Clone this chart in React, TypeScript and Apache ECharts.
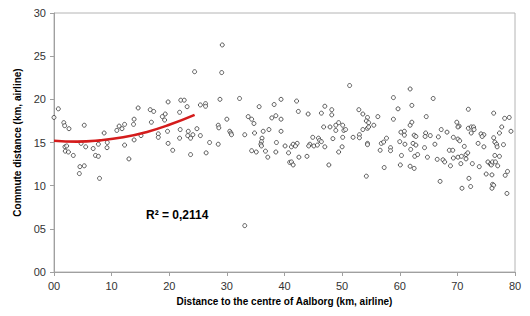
import React, { useEffect, useRef } from "react";
import * as echarts from "echarts";

const xTicks = [0, 10, 20, 30, 40, 50, 60, 70, 80];
const yTicks = [0, 5, 10, 15, 20, 25, 30];

const commutePoints: [number, number][] = [
  [0, 17.9], [0.75, 18.9], [1.7, 17.3], [1.85, 16.95], [2.6, 16.6], [5.25, 17.0], [8.7, 16.1],
  [10.9, 16.4], [11.3, 16.9], [11.8, 16.6], [12.25, 17.1], [4.7, 14.9], [5.5, 14.5], [1.9, 14.5],
  [2.2, 14.6], [1.96, 14.0], [2.5, 13.9], [3.35, 13.5], [6.8, 14.3], [7.7, 14.8], [9.25, 15.0],
  [9.2, 14.4], [7.2, 13.5], [7.7, 13.4], [12.25, 14.7], [13.0, 13.1], [4.5, 12.2], [5.25, 12.3],
  [4.4, 11.4], [7.9, 10.85],
  [24.4, 23.2], [19.8, 19.7], [22.0, 19.9], [22.6, 19.9], [25.4, 19.35], [26.3, 19.5], [14.6, 19.0],
  [16.7, 18.8], [17.3, 18.6], [21.8, 18.5], [23.1, 19.15], [19.3, 18.3], [18.8, 18.0], [13.9, 17.7],
  [13.8, 17.1], [16.9, 17.35], [19.2, 17.6], [15.1, 15.8], [18.1, 16.0], [18.1, 15.6], [19.7, 16.3],
  [21.9, 16.5], [23.3, 16.3], [24.8, 16.6], [21.8, 15.5], [23.2, 15.8], [23.7, 15.5], [24.1, 15.9],
  [25.4, 15.8], [13.9, 15.3], [19.8, 14.9], [20.6, 14.1], [23.7, 13.6], [26.4, 13.8], [26.3, 19.2],
  [29.2, 26.3], [29.1, 23.1], [51.3, 21.6], [28.8, 20.0], [32.2, 20.1], [30.0, 17.7], [28.5, 17.0],
  [28.6, 16.7], [30.5, 16.3], [30.7, 16.1], [30.8, 15.9], [28.5, 14.8], [27.0, 15.0], [35.6, 19.15],
  [33.7, 18.0], [34.3, 17.7], [34.7, 17.2], [33.1, 15.9], [34.8, 16.1], [36.3, 16.3], [37.3, 16.5],
  [36.1, 15.5], [36.0, 15.1], [35.9, 14.8], [36.0, 14.6], [34.3, 14.05], [35.1, 13.9], [36.7, 14.0],
  [37.1, 13.3], [38.2, 19.4], [39.4, 20.0], [38.5, 18.1], [37.8, 17.85], [39.4, 17.7], [39.4, 16.3],
  [38.6, 15.0], [38.5, 13.9], [40.1, 14.6], [40.7, 13.8], [41.2, 14.5], [41.5, 14.8], [42.2, 14.9],
  [41.9, 14.6], [42.1, 19.8], [42.4, 18.6], [44.1, 18.3], [42.5, 13.3], [43.9, 13.4], [44.4, 14.8],
  [44.2, 14.6], [44.9, 15.6], [45.1, 14.6], [45.7, 14.7], [45.9, 15.5], [46.1, 15.25], [46.4, 15.1],
  [47.0, 14.5], [46.4, 18.4], [48.2, 18.2], [47.0, 19.2], [48.2, 18.8], [46.8, 16.8], [47.9, 16.8],
  [48.9, 17.0], [49.4, 17.3], [50.1, 17.0], [48.9, 16.4], [50.3, 16.4], [48.4, 15.45], [50.1, 15.6],
  [50.0, 14.5], [49.4, 13.9], [40.9, 12.7], [41.2, 12.75], [41.5, 12.4], [47.7, 12.4], [33.1, 5.37],
  [54.2, 11.1], [57.3, 12.1], [60.1, 12.4], [60.3, 13.5], [61.8, 12.25], [62.5, 12.0], [62.6, 13.4],
  [63.1, 13.6], [64.8, 13.3], [66.5, 13.05], [67.5, 13.0], [67.8, 12.75], [67.0, 10.5], [68.8, 12.3],
  [69.3, 13.2], [70.1, 13.3], [70.7, 13.4], [71.5, 13.6], [71.8, 13.8], [70.6, 12.55], [71.5, 13.1],
  [72.6, 12.55], [73.8, 12.2], [72.0, 10.85], [70.8, 9.7], [72.3, 9.9], [75.0, 11.35], [75.3, 12.75],
  [75.7, 12.5], [75.9, 12.4], [76.1, 12.75], [76.0, 11.25], [76.1, 10.15], [76.3, 10.05], [76.0, 9.7],
  [76.6, 12.75], [77.0, 12.3], [77.3, 13.4], [76.5, 13.5], [78.3, 11.2], [78.7, 11.65], [78.6, 9.1],
  [61.8, 21.2], [65.8, 20.1], [58.9, 20.2], [59.7, 18.9], [62.1, 19.3], [52.9, 18.8], [53.6, 18.3],
  [54.4, 17.9], [54.2, 17.5], [54.6, 17.3], [55.5, 17.0], [56.2, 18.0], [50.6, 16.5], [53.6, 16.5],
  [54.4, 16.65], [54.6, 16.8], [58.9, 17.7], [61.8, 17.0], [62.1, 17.35], [64.6, 18.0], [51.9, 15.6],
  [53.0, 15.9], [53.0, 15.55], [54.4, 14.9], [54.4, 14.75], [56.6, 14.1], [56.8, 14.9], [57.2, 15.05],
  [57.7, 15.5], [58.4, 14.4], [58.4, 14.05], [60.2, 16.2], [60.8, 16.3], [60.8, 15.85], [60.0, 15.1],
  [60.9, 14.8], [62.5, 15.85], [62.8, 15.7], [62.3, 14.9], [62.8, 14.7], [61.9, 14.2], [64.5, 16.1],
  [64.4, 15.7], [65.3, 15.8], [66.1, 14.8], [64.3, 14.4], [66.7, 15.65], [67.2, 16.5], [68.2, 16.2],
  [69.3, 15.6], [70.1, 15.4], [69.9, 17.35], [70.3, 16.9], [70.1, 16.8], [71.9, 18.85], [71.9, 16.65],
  [72.4, 16.8], [72.8, 16.8], [72.9, 16.5], [72.4, 16.1], [74.1, 16.0], [74.6, 15.9], [74.3, 15.7],
  [73.6, 14.9], [74.6, 14.5], [71.2, 14.55], [70.4, 15.2], [68.6, 14.1], [69.2, 14.1], [76.3, 15.55],
  [76.5, 15.05], [76.8, 14.8], [76.9, 14.5], [77.3, 16.1], [77.7, 16.8], [78.2, 17.8], [76.3, 18.4],
  [79.0, 17.9], [79.3, 16.3], [78.0, 14.75],
];

// Trend line
const trendPoints: [number, number][] = [
  [0, 15.2], [4, 15.1], [8, 15.25], [12, 15.6], [16, 16.2], [20, 17.05], [24.4, 18.2],
];

const rSquaredLabel = "R² = 0,2114";
const xTitle = "Distance to the centre of Aalborg (km, airline)";
const yTitle = "Commute distance (km, airline)";

const pad2 = (v: number) => (v < 10 ? "0" + v : String(v));

export default function App() {
  const ref = useRef<HTMLDivElement>(null);
  useEffect(() => {
    document.body.style.margin = "0";
    if (!ref.current) return;
    const chart = echarts.init(ref.current, null, { renderer: "svg" });
    const font = "'Liberation Sans', Arial, sans-serif";
    chart.setOption({
      animation: false,
      backgroundColor: "#ffffff",
      grid: {
        left: 54, right: 15, top: 13, bottom: 44,
        show: true, borderColor: "#b4b4b4", borderWidth: 1,
      },
      xAxis: {
        type: "value", min: xTicks[0], max: xTicks[xTicks.length - 1], interval: 10,
        name: xTitle, nameLocation: "middle", nameGap: 24,
        nameTextStyle: { fontFamily: font, fontSize: 10, fontWeight: "bold", color: "#000" },
        axisLine: { lineStyle: { color: "#a0a0a0", width: 1 } },
        axisTick: { show: true, length: 4, lineStyle: { color: "#a0a0a0" } },
        splitLine: { show: false },
        axisLabel: { formatter: (v: number) => pad2(v), fontFamily: font, fontSize: 11, color: "#333", margin: 8 },
      },
      yAxis: {
        type: "value", min: yTicks[0], max: yTicks[yTicks.length - 1], interval: 5,
        name: yTitle, nameLocation: "middle", nameGap: 26,
        nameTextStyle: { fontFamily: font, fontSize: 10, fontWeight: "bold", color: "#000" },
        axisLine: { show: true, lineStyle: { color: "#a0a0a0", width: 1 } },
        axisTick: { show: true, length: 4, lineStyle: { color: "#a0a0a0" } },
        splitLine: { show: false },
        axisLabel: { formatter: (v: number) => pad2(v), fontFamily: font, fontSize: 11, color: "#333", margin: 8 },
      },
      graphic: [
        {
          type: "text", left: 146, top: 209,
          style: { text: rSquaredLabel, font: "bold 12px 'Liberation Sans', Arial, sans-serif", fill: "#000" },
        },
      ],
      series: [
        {
          type: "scatter", data: commutePoints, symbol: "circle", symbolSize: 4,
          itemStyle: { color: "#ffffff", borderColor: "#333", borderWidth: 1 },
          z: 2,
        },
        {
          type: "line", data: trendPoints, smooth: true, showSymbol: false, symbol: "none",
          lineStyle: { color: "#d41c1c", width: 2.6 },
          z: 3,
        },
      ],
    });
    return () => chart.dispose();
  }, []);
  return <div ref={ref} style={{ width: 530, height: 316 }} />;
}
